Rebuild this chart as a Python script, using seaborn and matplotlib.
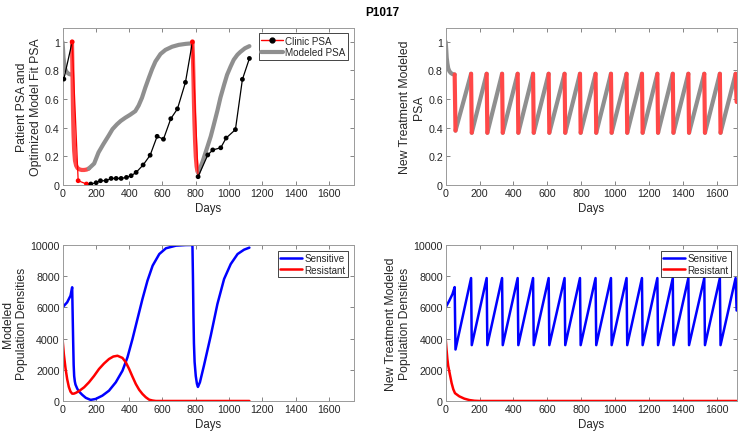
import matplotlib
matplotlib.use("Agg")
import matplotlib.pyplot as plt
import seaborn as sns
from matplotlib.lines import Line2D

# ---------------- data ----------------
# clinic PSA (normalised), 1 = on treatment
clinic_days = [8, 58, 94, 144, 170, 202, 228, 262, 292, 322, 352, 384, 412, 442, 484,
               526, 568, 606, 650, 690, 738, 780, 814, 872, 902, 950, 982, 1038, 1080, 1122]
clinic_psa = [0.74, 1.0, 0.03, 0.007, 0.007, 0.016, 0.03, 0.03, 0.046, 0.046, 0.046, 0.053,
              0.065, 0.088, 0.14, 0.208, 0.34, 0.32, 0.463, 0.532, 0.717, 1.0, 0.058, 0.21,
              0.245, 0.26, 0.328, 0.387, 0.738, 0.884]
clinic_on = [0, 1, 1, 1, 0, 0, 0, 0, 0, 0, 0, 0, 0, 0, 0,
             0, 0, 0, 0, 0, 0, 1, 0, 0, 0, 0, 0, 0, 0, 0]

# modeled PSA, fitted (top left)
model_pre_days = [0, 3, 6, 10, 15, 22, 30, 40, 50]
model_pre_psa = [1.0, 0.95, 0.89, 0.85, 0.815, 0.795, 0.783, 0.775, 0.772]
model_tx1_days = [57, 59, 61, 63, 66, 70, 75, 82, 90, 100, 115, 130, 145, 158]
model_tx1_psa = [1.0, 0.85, 0.68, 0.52, 0.36, 0.24, 0.17, 0.135, 0.118, 0.11, 0.105,
                 0.105, 0.108, 0.115]
model_off1_days = [158, 190, 216, 245, 276, 300, 327, 350, 377, 405, 437, 457, 477, 497,
                   518, 538, 558, 588, 618, 658, 698, 740, 780]
model_off1_psa = [0.115, 0.15, 0.227, 0.285, 0.343, 0.39, 0.424, 0.448, 0.47, 0.49, 0.516,
                  0.555, 0.609, 0.68, 0.748, 0.81, 0.863, 0.915, 0.944, 0.966, 0.979,
                  0.986, 0.99]
model_tx2_days = [780, 783, 786, 789, 792, 796, 800, 805, 810, 815]
model_tx2_psa = [0.99, 0.9, 0.75, 0.58, 0.44, 0.3, 0.2, 0.13, 0.095, 0.085]
model_off2_days = [815, 840, 868, 890, 908, 930, 948, 970, 988, 1010, 1028, 1050, 1068,
                   1095, 1122]
model_off2_psa = [0.085, 0.16, 0.26, 0.34, 0.42, 0.52, 0.61, 0.7, 0.77, 0.83, 0.875,
                  0.91, 0.93, 0.955, 0.97]

# new treatment schedule (right column)
nt_peak_days = [53, 150, 242, 333, 425, 516, 608, 702, 793, 885, 976, 1068, 1159, 1250,
                1341, 1433, 1527, 1619, 1712]
nt_trough_days = [58, 154, 246, 337, 429, 520, 612, 706, 797, 889, 980, 1072, 1163, 1254,
                  1345, 1437, 1531, 1623, 1718]
nt_peak_psa = [0.772, 0.777, 0.777, 0.777, 0.777, 0.777, 0.777, 0.777, 0.777, 0.777,
               0.777, 0.777, 0.777, 0.777, 0.777, 0.777, 0.777, 0.777, 0.777]
nt_trough_psa = [0.38, 0.365, 0.365, 0.365, 0.365, 0.365, 0.365, 0.365, 0.365, 0.365,
                 0.365, 0.365, 0.365, 0.365, 0.365, 0.365, 0.365, 0.365, 0.58]
nt_pre_days = [0, 20, 40]
nt_pre_sens = [6000, 6400, 6850]
nt_peak_sens = [7300, 7880, 7880, 7880, 7880, 7880, 7880, 7880, 7880, 7880, 7880, 7880,
                7880, 7880, 7880, 7880, 7880, 7880, 7880]
nt_trough_sens = [3300, 3580, 3580, 3580, 3580, 3580, 3580, 3580, 3580, 3580, 3580, 3580,
                  3580, 3580, 3580, 3580, 3580, 3580, 5800]
nt_res_days = [0, 5, 10, 15, 25, 35, 45, 55, 80, 110, 140, 170, 200, 1720]
nt_res = [4000, 3300, 2700, 2250, 1700, 1150, 750, 500, 300, 150, 60, 15, 0, 0]

# modeled populations, fitted (bottom left)
sens_days = [0, 28, 48, 58, 61, 64, 67, 70, 74, 78, 88, 98, 118, 140, 169, 199, 239, 279,
             320, 360, 390, 420, 450, 480, 510, 541, 581, 621, 681, 740, 780, 783, 786,
             789, 793, 800, 807, 813, 825, 849, 890, 930, 970, 1010, 1051, 1090, 1122]
sens_vals = [6000, 6325, 6750, 7290, 5500, 3800, 2300, 1600, 1250, 1050, 800, 620, 400,
             200, 70, 130, 340, 660, 1200, 1940, 2800, 3970, 5260, 6540, 7710, 8675, 9420,
             9790, 9957, 9995, 10000, 8000, 5500, 3700, 2500, 1600, 1100, 900, 1200, 2265,
             4190, 6220, 7820, 8780, 9420, 9700, 9830]
res_days = [0, 8, 18, 28, 38, 48, 58, 68, 80, 100, 130, 159, 189, 219, 249, 279, 305,
            330, 360, 380, 400, 420, 440, 460, 480, 500, 520, 540, 560, 600, 1122]
res_vals = [4000, 3000, 2100, 1400, 900, 600, 470, 470, 520, 640, 880, 1200, 1600, 2050,
            2400, 2690, 2850, 2900, 2760, 2480, 2050, 1560, 1090, 720, 450, 240, 85, 30,
            0, 0, 0]

# ---------------- style ----------------
sns.set_style("ticks")
plt.rcParams['font.family'] = ['Liberation Sans', 'DejaVu Sans']
plt.rcParams['xtick.direction'] = 'in'
plt.rcParams['ytick.direction'] = 'in'

GRAY = '#8f8f8f'
MRED = '#ff4848'
TXT = '#262626'


def line(ax, days, vals, color, lw):
    sns.lineplot(x=days, y=vals, ax=ax, color=color, linewidth=lw,
                 sort=False, estimator=None, legend=False)


def style_axes(ax, xmax, ymax, yticks, ylabel):
    ax.set_xlim(0, xmax)
    ax.set_ylim(0, ymax)
    ax.set_xticks(range(0, 1601, 200))
    ax.set_yticks(yticks)
    ax.tick_params(which='both', top=True, right=True, length=3, width=0.5,
                   color='#555555', labelsize=7.7, labelcolor=TXT, pad=2)
    for s in ax.spines.values():
        s.set_visible(True)
        s.set_color('#9a9a9a')
        s.set_linewidth(0.7)
    ax.set_xlabel('Days', fontsize=8.3, color=TXT, labelpad=3)
    ax.set_ylabel(ylabel, fontsize=8.8, color=TXT, labelpad=2)


def legend(ax, handles, labels):
    lg = ax.legend(handles, labels, loc='upper right', fontsize=7.1, fancybox=False,
                   edgecolor=TXT, framealpha=1, borderpad=0.25, labelspacing=0.15,
                   handlelength=2.2, handletextpad=0.25, borderaxespad=0.6)
    lg.get_frame().set_linewidth(0.6)


fig = plt.figure(figsize=(7.38, 4.35), dpi=100)
ax1 = fig.add_axes([0.0847, 0.5724, 0.3950, 0.3620])
ax2 = fig.add_axes([0.6039, 0.5724, 0.3947, 0.3620])
ax3 = fig.add_axes([0.0847, 0.0759, 0.3950, 0.3586])
ax4 = fig.add_axes([0.6039, 0.0759, 0.3947, 0.3586])

# ---- top left: clinic vs fitted PSA ----
line(ax1, model_pre_days, model_pre_psa, GRAY, 3)
line(ax1, model_tx1_days, model_tx1_psa, MRED, 3)
line(ax1, model_off1_days, model_off1_psa, GRAY, 3)
line(ax1, model_tx2_days, model_tx2_psa, MRED, 3)
line(ax1, model_off2_days, model_off2_psa, GRAY, 3)

start = 0
for i in range(1, len(clinic_days)):
    if i == len(clinic_days) - 1 or clinic_on[i] != clinic_on[start]:
        col = 'red' if clinic_on[start] else 'black'
        line(ax1, clinic_days[start:i + 1], clinic_psa[start:i + 1], col, 0.9)
        start = i
pt_cols = ['red' if on else 'black' for on in clinic_on]
sns.scatterplot(x=clinic_days, y=clinic_psa, ax=ax1, color=pt_cols, s=12,
                linewidth=0, zorder=5, legend=False)

style_axes(ax1, 1750, 1.1, [0, 0.2, 0.4, 0.6, 0.8, 1],
           'Patient PSA and\nOptimized Model Fit PSA')
ax1.set_yticklabels(['0', '0.2', '0.4', '0.6', '0.8', '1'])
legend(ax1, [Line2D([0], [0], color='red', lw=1, marker='o', ms=3.5, mfc='black',
                    mec='black'),
             Line2D([0], [0], color=GRAY, lw=3)],
       ['Clinic PSA', 'Modeled PSA'])

# ---- top right: new treatment PSA ----
line(ax2, model_pre_days + [nt_peak_days[0]], model_pre_psa + [nt_peak_psa[0]], GRAY, 3)
for k in range(1, len(nt_peak_days)):
    line(ax2, [nt_trough_days[k - 1], nt_peak_days[k]],
         [nt_trough_psa[k - 1], nt_peak_psa[k]], GRAY, 3)
for k in range(len(nt_peak_days)):
    line(ax2, [nt_peak_days[k], nt_trough_days[k]],
         [nt_peak_psa[k], nt_trough_psa[k]], MRED, 3)
style_axes(ax2, 1720, 1.1, [0, 0.2, 0.4, 0.6, 0.8, 1], 'New Treatment Modeled\nPSA')
ax2.set_yticklabels(['0', '0.2', '0.4', '0.6', '0.8', '1'])

# ---- bottom left: fitted populations ----
line(ax3, sens_days, sens_vals, 'blue', 1.8)
line(ax3, res_days, res_vals, 'red', 1.8)
style_axes(ax3, 1750, 10000, range(0, 10001, 2000), 'Modeled\nPopulation Densities')

# ---- bottom right: new treatment populations ----
saw_days = list(nt_pre_days)
saw_vals = list(nt_pre_sens)
for k in range(len(nt_peak_days)):
    saw_days += [nt_peak_days[k], nt_trough_days[k]]
    saw_vals += [nt_peak_sens[k], nt_trough_sens[k]]
line(ax4, saw_days, saw_vals, 'blue', 1.8)
line(ax4, nt_res_days, nt_res, 'red', 1.8)
style_axes(ax4, 1720, 10000, range(0, 10001, 2000),
           'New Treatment Modeled\nPopulation Densities')

pop_handles = [Line2D([0], [0], color='blue', lw=1.8), Line2D([0], [0], color='red', lw=1.8)]
for ax in (ax3, ax4):
    legend(ax, pop_handles, ['Sensitive', 'Resistant'])

fig.text(0.518, 0.985, 'P1017', ha='center', va='top', fontsize=8.5, fontweight='bold',
         color='black')

fig.savefig('out.png', dpi=100)
